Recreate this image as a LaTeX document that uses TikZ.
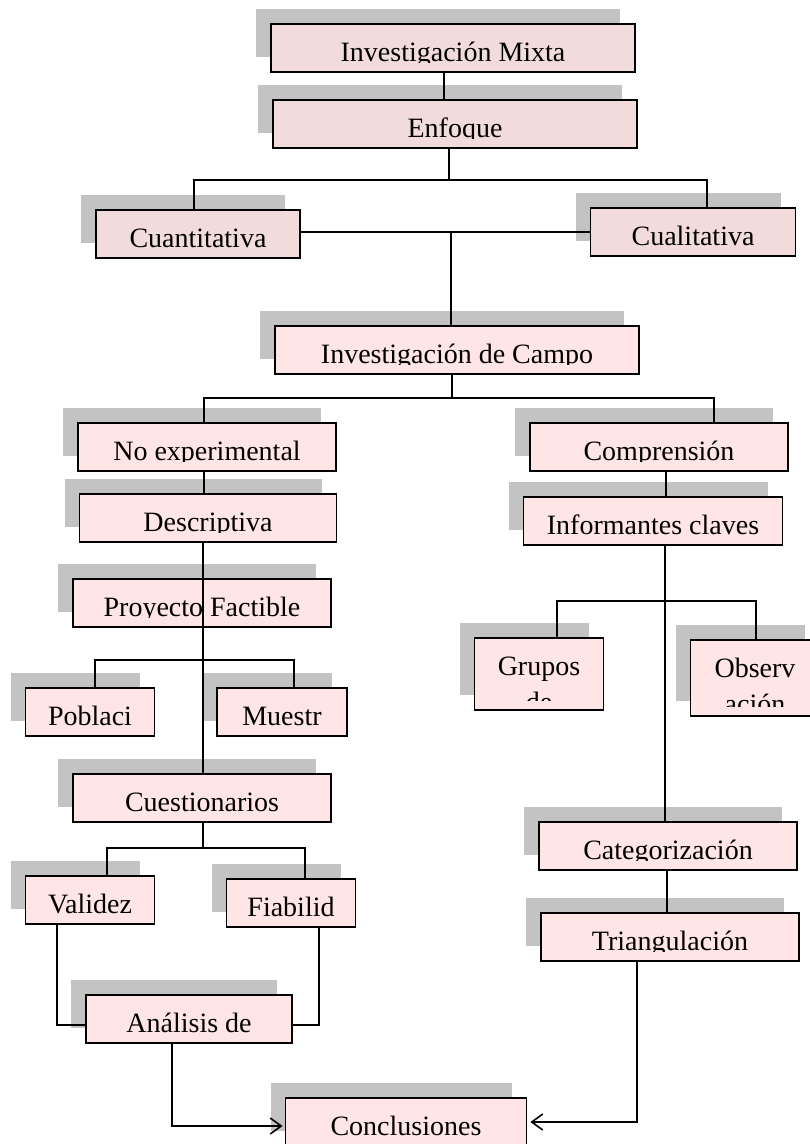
\documentclass[tikz,border=0pt]{standalone}
\usepackage{fontspec}
\setmainfont{Liberation Serif}
\usetikzlibrary{arrows.meta,shadows}

\definecolor{pinkdark}{RGB}{242,220,219}
\definecolor{pinklight}{RGB}{255,229,229}
\definecolor{shadowgray}{RGB}{195,195,195}
\newcommand{\lblfont}{\fontsize{28}{32}\selectfont}

\tikzset{
  box/.style={draw, line width=1.8pt, fill=pinklight, inner sep=0pt, minimum height=48pt,
    general shadow={shadow xshift=-15pt, shadow yshift=15pt, fill=shadowgray}},
  txt/.style={path picture={
      \clip ([yshift=10pt]path picture bounding box.south west) rectangle (path picture bounding box.north east);
      \node[font=\lblfont, anchor=base, inner sep=0pt] at ([yshift=-37pt]path picture bounding box.north) {#1};}},
  link/.style={line width=1.6pt},
  >={Straight Barb[length=11pt,width=16pt]},
}

\begin{document}
\begin{tikzpicture}[x=1pt, y=-1pt]
  \useasboundingbox (0,0) rectangle (810,1144);

  % top
  \node[box, fill=pinkdark, minimum width=364pt, txt={Investigación Mixta}] (mixta) at (453,48) {};
  \node[box, fill=pinkdark, minimum width=364pt, txt={Enfoque}] (enfoque) at (455,124) {};
  \node[box, fill=pinkdark, minimum width=204pt, txt={Cuantitativa}] (cuanti) at (198,234) {};
  \node[box, fill=pinkdark, minimum width=205pt, txt={Cualitativa}] (cuali) at (693,232) {};
  \node[box, minimum width=364pt, txt={Investigación de Campo}] (campo) at (457,350) {};

  % left branch
  \node[box, minimum width=258pt, txt={No experimental}] (noexp) at (207,447) {};
  \node[box, minimum width=257pt, txt={Descriptiva}] (descr) at (208,518) {};
  \node[box, minimum width=258pt, txt={Proyecto Factible}] (proy) at (202,603) {};
  \node[box, minimum width=129pt, txt={Poblaci}] (pobl) at (90,712) {};
  \node[box, minimum width=130pt, txt={Muestr}] (muestr) at (282,712) {};
  \node[box, minimum width=258pt, txt={Cuestionarios}] (cuest) at (202,798) {};
  \node[box, minimum width=129pt, txt={Validez}] (valid) at (90,900) {};
  \node[box, minimum width=129pt, txt={Fiabilid}] (fiab) at (291,903) {};
  \node[box, minimum width=206pt, txt={Análisis de}] (anal) at (189,1019) {};
  \node[box, minimum width=241pt, txt={Conclusiones}] (concl) at (406,1122) {};

  % right branch
  \node[box, minimum width=258pt, txt={Comprensión}] (compr) at (659,447) {};
  \node[box, minimum width=259pt, txt={Informantes claves}] (inform) at (653,521) {};
  \node[box, minimum width=129pt, minimum height=72pt,
        txt={\begin{tabular}[t]{@{}c@{}}Grupos\\[4pt]de\end{tabular}}] (grupos) at (539,674) {};
  \node[box, minimum width=129pt, minimum height=76pt,
        txt={\begin{tabular}[t]{@{}c@{}}Observ\\[4pt]ación\end{tabular}}] (observ) at (755,678) {};
  \node[box, minimum width=258pt, txt={Categorización}] (categ) at (668,846) {};
  \node[box, minimum width=258pt, txt={Triangulación}] (triang) at (670,937) {};

  % junctions
  \coordinate (j1) at (449,180);
  \coordinate (j2) at (451,232);
  \coordinate (j3) at (452,398);
  \coordinate (j4) at (203,660);
  \coordinate (j5) at (203,848);
  \coordinate (j6) at (665,601);

  \draw[link] (444,0 |- mixta.south) -- (444,0 |- enfoque.north);
  \draw[link] (enfoque.south -| j1) -- (j1);
  \draw[link] (194,0 |- cuanti.north) |- (j1) -| (707,0 |- cuali.north);
  \draw[link] (cuanti.east |- j2) -- (cuali.west |- j2);
  \draw[link] (j2) -- (campo.north -| j2);
  \draw[link] (campo.south -| j3) -- (j3);
  \draw[link] (204,0 |- noexp.north) |- (j3) -| (714,0 |- compr.north);

  \draw[link] (204,0 |- noexp.south) -- (204,0 |- descr.north);
  \draw[link] (203,0 |- descr.south) -- (203,0 |- cuest.north);
  \draw[link] (95,0 |- pobl.north) |- (j4) -| (294,0 |- muestr.north);
  \draw[link] (cuest.south -| j5) -- (j5);
  \draw[link] (107,0 |- valid.north) |- (j5) -| (305,0 |- fiab.north);
  \draw[link] (57,0 |- valid.south) |- (anal.west |- 0,1025);
  \draw[link] (319,0 |- fiab.south) |- (anal.east |- 0,1025);
  \draw[link, ->] (172,0 |- anal.south) |- ([xshift=-2pt]concl.west |- 0,1126);

  \draw[link] (666,0 |- compr.south) -- (666,0 |- inform.north);
  \draw[link] (inform.south -| j6) -- (categ.north -| j6);
  \draw[link] (557,0 |- grupos.north) |- (j6) -| (756,0 |- observ.north);
  \draw[link] (667,0 |- categ.south) -- (667,0 |- triang.north);
  \draw[link, ->] (637,0 |- triang.south) |- ([xshift=3pt]concl.east |- 0,1122);
\end{tikzpicture}
\end{document}
